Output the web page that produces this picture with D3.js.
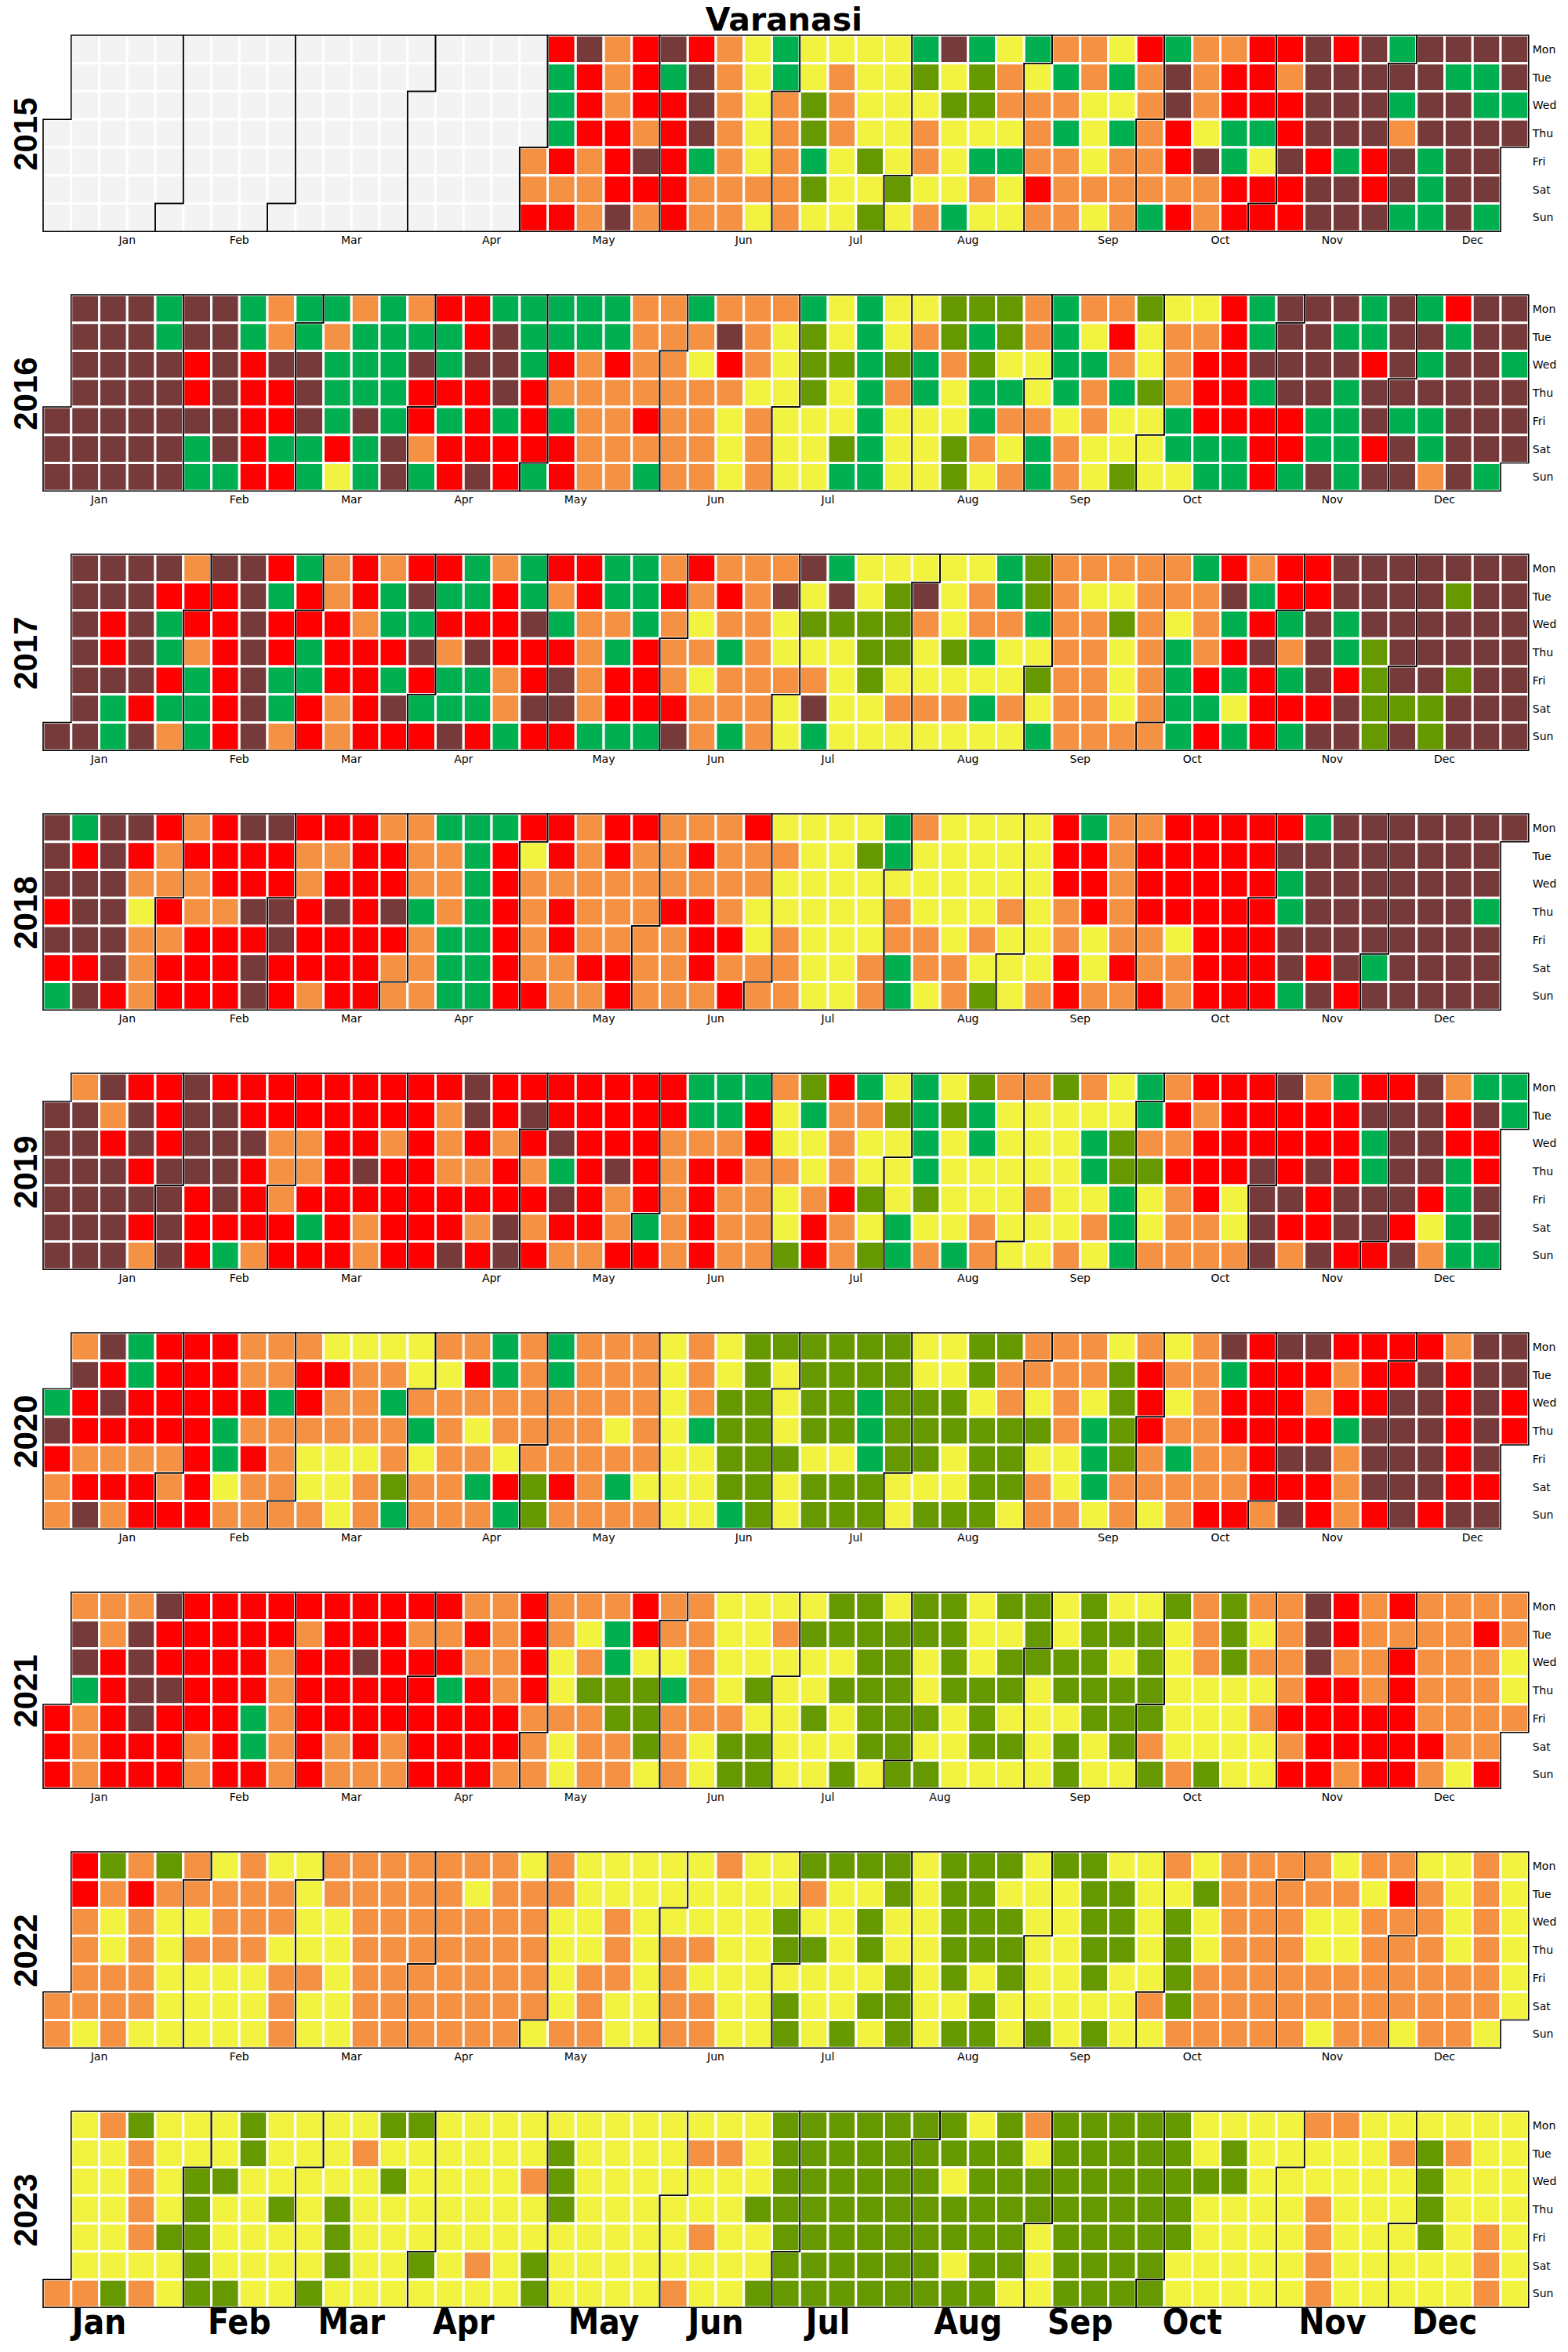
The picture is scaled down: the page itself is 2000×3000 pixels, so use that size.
<!DOCTYPE html>
<html>
<head>
<meta charset="utf-8">
<script src="https://cdn.jsdelivr.net/npm/d3@7"></script>
<style>
  body { margin: 0; background: #ffffff; }
  svg { display: block; }
</style>
</head>
<body>
<svg id="chart" width="2000" height="3000"></svg>
<script>
// ---------------- DATA ----------------
const chartTitle = "Varanasi";
const years = [2015, 2016, 2017, 2018, 2019, 2020, 2021, 2022, 2023];
const weekdays = ["Mon", "Tue", "Wed", "Thu", "Fri", "Sat", "Sun"];
const monthNames = ["Jan","Feb","Mar","Apr","May","Jun","Jul","Aug","Sep","Oct","Nov","Dec"];
// category codes (daily AQI class) and their colours; "." = no data
const categoryCodes  = ["G", "L", "Y", "O", "R", "M", "."];
const categoryColors = ["#00b050", "#669900", "#f2f240", "#f59142", "#ff0000", "#763a3a", "#f3f3f3"];

// Each year: one string per weekday (Mon..Sun), the values of that weekday's
// dates in chronological order (spaces are only for readability).
const aqi2015 = [
  "................. RMORMROYGY YYYGMGYGOO YRGOORRMRM GMMMM",
  "................. GRORGMOYGY OYYLYLOYGO GOMORROMMM MMGGM",
  "................. GRORRMOYOL OYYYLLOOOY YOMORRRMMM GMMGG",
  ".................. GRRORMOYOL OYYOYYYOGY GORYGGRMMM OMMMM",
  "................. ORORMRGOYO GYLYOYGGOO YOORMGYMRG RMGMM",
  "................. OOORRROOOO LYYLYYOYRO OOOOORRRMM RMGMM",
  "................. RROMOROOYO YYLYOGYYOO YOGRORRRMM MGGMG"
];
const aqi2016 = [
  "MMMGMMGOGG OGORRGGGGG OOGOOOGYGY YLLLOGOOLY YRGMMMGMGR MM",
  "MMMGMMGOGO GGGGRMGGGG OOOMOYLYGY OLGLOGYRYO ORGMMGGMMG MM",
  "MMMMRMRMMG GGMGMMGROR OOYROYLLGL GOLYYGGOYO RRMMMMRMGM MG",
  "MMMMRMRRMG GGRRRMROOO OOOOYYLYGO GYGGYGOGLO RRGMMGMMMM MM",
  "MMMMMMMRRM GMGRGRGRGO OROOYOYYYG YYYGOOYOYY GRRRRGGMGG MMM",
  "MMMMMGMRGG RGMORRRRRO OOOOYOYYLG YYLOYGOYYY GGGRRGGRMG MMM",
  "MMMMMGGRRG YGMGRMRGRO OGOOYOYYGG YYLYOGOYLY YGGRGMGMMO MG"
];
const aqi2017 = [
  "MMMMOMMRGO RORRGOGRRG GOROOOMGYY YYYGLOOOOO GRORRMMMMM MM",
  "MMMRRRMGRO RGMGGRGORG GROROMYMYL MYOGLOYYOO OMGRRMMMML MM",
  "MRMGRRMRRR OGGRRRMGOO GOYOOYLLLL OYOOGOOLOY OGRGMGMMMM MM",
  "MRMGORMRGR RRMOMRRROG ROOGOYYYLL YLGYYOOYOG ORMOMGLMMM MM",
  "MMMRGRMGGR RGRGGORMOR ROYOOOOYLY YYYYLOOYOG RGRGMRLMML MM",
  "MGRGGRMGRO RMGGGOMMOR RROOOYMYYO OOGOYOOYOG GYRRRMLLLM MM",
  "MMGMOGRMOR ORRRMRGRRG GGMOGOYGYY YYYYYGOOOO GRGRGMMLML MMM"
];
const aqi2018 = [
  "MGMMRORMMR RROOGGGRRO RROOORYYYY GOYYYYRGOO RRRRRGMMMM MMM",
  "MRMRORRRRO ORROOGRYRO ROOROOOYYL GYYYYYRROR RRRRMMMMMM MM",
  "MMMOOORRRO RRROOGROOO OOOOOOYYYY YYYYYYRROR RRRRGMMMMM MM",
  "RMMYROOMMR MRMGOGRORO OORROYYYYY OYYYOYOROR RRRRGMMMMM MG",
  "MMMOORRRMR RRROGGRORO OOORRYOYYY OOYOYYOYOO YRRRMMMMMM MM",
  "RRMORRRMRR RROOGGROOR ROOROOOYYO GOOYYYRYRO ORRRMRMGMM MM",
  "GMRORRRMRO RROOGGRROO ROOOROOYYO GYOLYOROOR ORRRGMRMMM MM"
];
const aqi2019 = [
  "OMRRMRRRRR RRRRMRRRRR RRGGGOLRGY GYLOOLOYGO RRRMOGRRMO GG",
  "MMOMRMMRRR RRRROMRMRR RRRGGRYGOO LGLGYYYYYG RORRRRRMMM RMG",
  "MMRMRMMMOO RRORORORMR RROOORYYOY YGYGYYYGLO ORRRRRRGMM RR",
  "MMMRMMMROO RMRROOROGR MRORROOYOY YGYYYYYGLL RRRMRMRGMM GR",
  "MMMMMRMROR RRRRRRRRMR OROROOYORL YLYYYOYYGY ORYMMRMMMR GM",
  "MMMRMRRRRG RORRROMORR OGOROOYROY GYYOYYYOGY OOYMRRMMRY GM",
  "MMMOMRGORR RORRMRMROO RROROOLROL GOGOYYOYGO OOOMOMRRMO GG"
];
const aqi2020 = [
  "OMGRRROOOY YYYOOGOGOO OYOYLLLLLL YYLLOOOYOY OMRMMRRRRO MM",
  "MRGRRROORR OOYYRGOGOO OYOYLYLLLL YYLOOOOLRO OGRRRORRMR MM",
  "GRMRRRRRGR OOGOOOOOOO OOYOLLYLLG LLLYOYOYLR YORRRORRMM RMR",
  "MRRRRRGOOO OOOGOYOOOO YOYGLLYLLG LLLLLLOGLR OORRRRGMMM RMR",
  "ROOOORGROY YYOYOOYOOO OOYYLLLYYG LLYLLYYGLO GOORMMOMMM RM",
  "ORRRORYOOY YOLOOGRLRO GYYYLLYLLL YYYLLOYGOO OOORRROMMM RR",
  "OMORRROOOO YOGOOOGLOO OOYYGLYLLL YLLLYOOYOY ORROMRORMR MM"
];
const aqi2021 = [
  "OOOMRRRRRR RRRROOROOO ROOYYYYLLY LLYLLYLYYL OLOOMROROO OO",
  "MOMRRRRROR RROOROROYG ROOYYOLLLL LLYYLYLLLY OLYOMROOOO RO",
  "MRMRRRRORR MRRROORYOG YYOYYYYYLL YLYLLLLYLY OLOOMOOROO OY",
  "GRMMRRRORR RRRGRORYLL LGOYLYYLLL YLLLYLLLLY YYYORROROO OY",
  "RORMRRRGOR RRRRRRROOO LLOOOYYLYL LLYLYYYLLL YYYORRRRRO OOO",
  "RORRRORGOR ORORRRROYO OLOYLLYYYL LYYLLYLYLO YYYYORRRRR OO",
  "RORRRORROR OOORRROOYO OYOYLLYYLY LLYYYYLYYL OLYYRRORRO YR"
];
const aqi2022 = [
  "RLOLOYOYYO OOOOOOYOYY YYYOYYLLLL YLLLYLLYYO YOOOOYOOYY OY",
  "ROROOOOOYO OOOOYOOOYY YYYYYYOYYL YLLYYYLLYY LOOOOOYROY OY",
  "OYOYYOOOYY OOOOOOOYYO YYYYYLYYLY YLLLYYLLYL YOOOYYOOOY OY",
  "OYOYOOOYYY OOOOOOOYYO YOOYYLLYLY YLLLYYLLYL YOOOYYOOOY OY",
  "OOOYYYYOOY OOOOOOOYOO YOYYYYYYYL YLYLYYLYYL OOOOOOOOOO OY",
  "OOOOYYYYOY YOOOOOOOYO YYOOYYLYYL LYYLYYYYYO LOOOOOOOOO OOY",
  "OYOYYYYYOY YOOOOOOYOO YYOOYYLYLY LYLLYLYLYY OOOOOYOOYO OY"
];
const aqi2023 = [
  "YOLYYYLYYY YLLYYYYYYY YYYYYLLLLL LLYLOLLLLL YYYYOOYYYY YY",
  "YYOYYYLYYY OYYYYYYLYY YYOOYLLLLL LLLLYLLLLL YLYYYYYOLO YY",
  "YYOYLLYYYY YLYYYYOLYY YYYYYLLLLL LYLLLLLLLL LLYYYYYYLY YY",
  "YYOYLYYLYL YYYYYYYLYY YYYYLLLLLL LLLLLLLLLL YYYYOYYYLY YY",
  "YYOLLYYYYL YYYYYYYYYY YYOYYLLLLL LLLLYLLLLL YYYYOYYYLY OY",
  "YYYYLYYYYL YYLYOYLYYY YYYYYLLLLL LYLLYLLLLY YYYYOYYYYY OY",
  "OOLOYLLYYL YYYYYYYLYY YYOYYLLLLL LLLLYYLLLL YYYYYOYYYY YOY"
];
const yearSeries = [aqi2015, aqi2016, aqi2017, aqi2018, aqi2019, aqi2020, aqi2021, aqi2022, aqi2023];

// ---------------- LAYOUT ----------------
const cell = 35.75;
const gridLeft = 55;
const gridTop = 45;
const panelStep = 331;
const nWeeks = 53;

const svg = d3.select("#chart");
const x = d3.scaleLinear().domain([0, nWeeks]).range([gridLeft, gridLeft + nWeeks * cell]);
const rowBand = d3.scaleBand().domain(weekdays).range([0, 7 * cell]);
const rowEdge = d3.scaleLinear().domain([0, 7]).range([0, 7 * cell]);
const yearY = d3.scaleLinear().domain([years[0], years[0] + 1]).range([gridTop, gridTop + panelStep]);
const color = d3.scaleOrdinal().domain(categoryCodes).range(categoryColors);
const isoWeek = d3.timeFormat("%V");

const colOf = d => d3.timeMonday.count(d3.timeYear(d), d);
const rowOf = d => (d.getDay() + 6) % 7;

// title
svg.append("text")
  .attr("x", 1000).attr("y", 39)
  .attr("text-anchor", "middle")
  .attr("font-family", "'DejaVu Sans', sans-serif")
  .attr("font-weight", "bold")
  .attr("font-size", 41)
  .attr("fill", "#000")
  .text(chartTitle);

years.forEach((year, yi) => {
  const series = yearSeries[yi];
  const jan1 = new Date(year, 0, 1);
  const offset = rowOf(jan1);
  const records = [];
  series.forEach((s, w) => {
    const vals = s.replace(/\s+/g, "");
    const first = d3.timeDay.offset(jan1, (w - offset + 7) % 7);
    for (let k = 0; k < vals.length; k++) {
      const date = d3.timeDay.offset(first, 7 * k);
      if (date.getFullYear() !== year) continue;
      records.push({ date, value: vals[k] });
    }
  });

  const g = svg.append("g").attr("transform", `translate(0,${yearY(year)})`);

  // cells
  g.append("g").selectAll("rect")
    .data(records)
    .join("rect")
    .attr("x", d => x(colOf(d.date)))
    .attr("y", d => rowBand(weekdays[rowOf(d.date)]))
    .attr("width", cell)
    .attr("height", cell)
    .attr("fill", d => color(d.value))
    .attr("stroke", "#ffffff")
    .attr("stroke-width", 3);

  // month outlines
  const months = d3.range(12).map(m => {
    const a = new Date(year, m, 1), b = new Date(year, m + 1, 0);
    const c1 = colOf(a), r1 = rowOf(a), c2 = colOf(b), r2 = rowOf(b);
    return [[c1, r1], [c1 + 1, r1], [c1 + 1, 0], [c2 + 1, 0], [c2 + 1, r2 + 1],
            [c2, r2 + 1], [c2, 7], [c1, 7], [c1, r1]];
  });
  const line = d3.line().x(p => x(p[0])).y(p => rowEdge(p[1]));
  g.append("g").selectAll("path")
    .data(months)
    .join("path")
    .attr("d", d => line(d) + "Z")
    .attr("fill", "none")
    .attr("stroke", "#000")
    .attr("stroke-width", 1.6)
    .attr("stroke-linejoin", "miter");

  // weekday labels
  g.append("g").selectAll("text")
    .data(weekdays)
    .join("text")
    .attr("x", x(nWeeks) + 5)
    .attr("y", d => rowBand(d) + rowBand.bandwidth() / 2)
    .attr("dy", "0.35em")
    .attr("font-family", "'DejaVu Sans', sans-serif")
    .attr("font-size", 14)
    .attr("fill", "#000")
    .text(d => d);

  // month labels
  const last = yi === years.length - 1;
  g.append("g").selectAll("text")
    .data(monthNames)
    .join("text")
    .attr("x", (d, m) => x(+isoWeek(new Date(year, m, 15))))
    .attr("y", last ? 7 * cell + 34 : 7 * cell + 15.5)
    .attr("text-anchor", "middle")
    .attr("font-family", last ? "'Liberation Sans Narrow', 'DejaVu Sans Condensed', sans-serif" : "'DejaVu Sans', sans-serif")
    .attr("font-weight", last ? "bold" : "normal")
    .attr("font-size", last ? 44 : 14)
    .attr("fill", "#000")
    .text(d => d);

  // year label
  g.append("text")
    .attr("transform", `translate(47,${3.5 * cell + 1}) rotate(-90)`)
    .attr("text-anchor", "middle")
    .attr("font-family", "'Liberation Sans', Arial, sans-serif")
    .attr("font-weight", "bold")
    .attr("font-size", 42)
    .attr("fill", "#000")
    .text(year);
});
</script>
</body>
</html>
